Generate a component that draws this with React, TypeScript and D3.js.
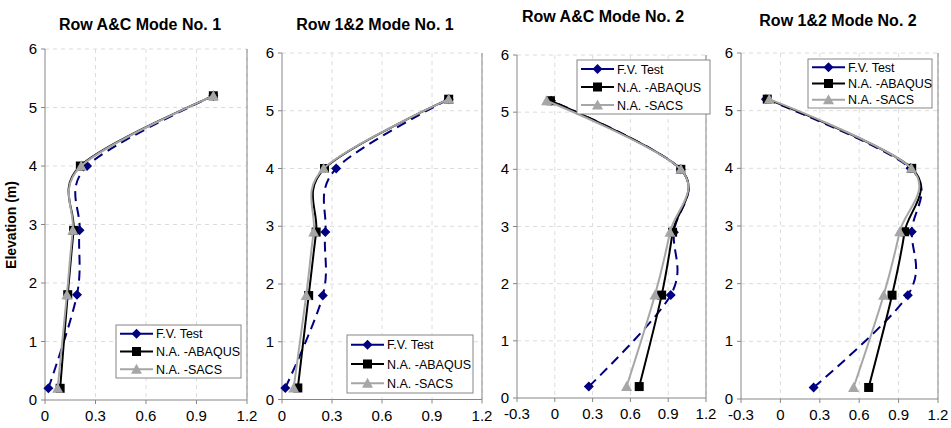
import React from 'react';
import * as d3 from 'd3';

// elevations of the measured points (m)
const heights = [0.2, 1.8, 2.9, 4.0, 5.2];
const seriesNames = ['F.V. Test', 'N.A. -ABAQUS', 'N.A. -SACS'];
const titles = ['Row A&C Mode No. 1', 'Row 1&2 Mode No. 1', 'Row A&C Mode No. 2', 'Row 1&2 Mode No. 2'];
const yTicks = [0, 1, 2, 3, 4, 5, 6];
const xTicksMode1 = [0, 0.3, 0.6, 0.9, 1.2];
const xTicksMode2 = [-0.3, 0, 0.3, 0.6, 0.9, 1.2];

// mode shape values, one array per series per panel
const fvAC1 = [0.02, 0.19, 0.205, 0.25, 1.0];
const abaqusAC1 = [0.09, 0.135, 0.17, 0.21, 1.0];
const sacsAC1 = [0.075, 0.13, 0.165, 0.215, 1.0];

const fv121 = [0.02, 0.245, 0.26, 0.325, 1.0];
const abaqus121 = [0.095, 0.16, 0.205, 0.255, 1.0];
const sacs121 = [0.07, 0.145, 0.19, 0.25, 1.0];

const fvAC2 = [0.27, 0.92, 0.945, 1.0, -0.03];
const abaqusAC2 = [0.67, 0.848, 0.935, 1.0, -0.035];
const sacsAC2 = [0.57, 0.795, 0.914, 1.0, -0.065];

const fv122 = [0.253, 0.97, 1.0, 0.99, -0.11];
const abaqus122 = [0.672, 0.85, 0.946, 1.0, -0.1];
const sacs122 = [0.557, 0.786, 0.908, 0.997, -0.085];

const panelData = [
  [fvAC1, abaqusAC1, sacsAC1],
  [fv121, abaqus121, sacs121],
  [fvAC2, abaqusAC2, sacsAC2],
  [fv122, abaqus122, sacs122],
];

// layout of each panel
const layout = [
  { left: 45, right: 247, top: 49, bottom: 400, xDomain: [0, 1.2], ticks: xTicksMode1, titleX: 140, titleY: 30, legend: { x: 116, y: 325, w: 125, h: 53 } },
  { left: 282, right: 482, top: 53, bottom: 399.5, xDomain: [0, 1.2], ticks: xTicksMode1, titleX: 375, titleY: 30, legend: { x: 347, y: 335, w: 126, h: 58 } },
  { left: 517, right: 706, top: 55, bottom: 398, xDomain: [-0.3, 1.2], ticks: xTicksMode2, titleX: 603, titleY: 22, legend: { x: 577, y: 60, w: 133, h: 54 } },
  { left: 741, right: 938, top: 53, bottom: 399, xDomain: [-0.3, 1.2], ticks: xTicksMode2, titleX: 838, titleY: 26, legend: { x: 808, y: 59, w: 124, h: 49 } },
];

const styles = [
  { color: '#000080', dash: '10,6', marker: 'diamond' },
  { color: '#000000', dash: null, marker: 'square' },
  { color: '#a6a6a6', dash: null, marker: 'triangle' },
];

const font = 'Arial, "Liberation Sans", sans-serif';
const gridColor = '#dcdcdc';
const axisColor = '#868686';

const Marker = ({ type, x, y, color }: any) => {
  if (type === 'diamond') {
    return <path d={`M${x},${y - 5}L${x + 5},${y}L${x},${y + 5}L${x - 5},${y}Z`} fill={color} />;
  }
  if (type === 'square') {
    return <rect x={x - 4.5} y={y - 4.5} width={9} height={9} fill={color} />;
  }
  return <path d={`M${x},${y - 5.5}L${x + 5.5},${y + 4.5}L${x - 5.5},${y + 4.5}Z`} fill={color} />;
};

const fmt = (v: number) => (Math.abs(v) < 1e-9 ? '0' : String(+v.toFixed(1)));

const Panel = ({ idx }: { idx: number }) => {
  const p = layout[idx];
  const x = d3.scaleLinear().domain(p.xDomain).range([p.left, p.right]);
  const y = d3.scaleLinear().domain([0, 6]).range([p.bottom, p.top]);
  const line = d3
    .line<number>()
    .x((d) => x(d))
    .y((_, i) => y(heights[i]))
    .curve(d3.curveCardinal.tension(0));

  const series = panelData[idx];
  const lg = p.legend;
  const rowH = lg.h / 3;

  return (
    <g>
      <text x={p.titleX} y={p.titleY} textAnchor="middle" fontFamily={font} fontWeight="bold" fontSize={16}>
        {titles[idx]}
      </text>

      {/* grid */}
      {p.ticks.slice(1).map((t) => (
        <line key={'gx' + t} x1={x(t)} x2={x(t)} y1={p.top} y2={p.bottom} stroke={gridColor} strokeDasharray="4,4" />
      ))}
      {yTicks.slice(1).map((t) => (
        <line key={'gy' + t} x1={p.left} x2={p.right} y1={y(t)} y2={y(t)} stroke={gridColor} strokeDasharray="4,4" />
      ))}

      {/* frame */}
      <line x1={p.right} x2={p.right} y1={p.top} y2={p.bottom} stroke={axisColor} />
      <line x1={p.left} x2={p.left} y1={p.top} y2={p.bottom} stroke={axisColor} />
      <line x1={p.left} x2={p.right} y1={p.bottom} y2={p.bottom} stroke={axisColor} />

      {yTicks.map((t) => (
        <g key={'yt' + t}>
          <line x1={p.left - 4} x2={p.left} y1={y(t)} y2={y(t)} stroke={axisColor} />
          <text x={p.left - 8} y={y(t) + 5} textAnchor="end" fontFamily={font} fontSize={15}>
            {t}
          </text>
        </g>
      ))}
      {p.ticks.map((t) => (
        <g key={'xt' + t}>
          <line x1={x(t)} x2={x(t)} y1={p.bottom} y2={p.bottom + 4} stroke={axisColor} />
          <text x={x(t)} y={p.bottom + 21} textAnchor="middle" fontFamily={font} fontSize={15}>
            {fmt(t)}
          </text>
        </g>
      ))}

      {/* series in plotting order: test, ABAQUS, SACS on top */}
      {[0, 1, 2].map((s) => (
        <g key={'s' + s}>
          <path
            d={line(series[s]) || ''}
            fill="none"
            stroke={styles[s].color}
            strokeWidth={2}
            strokeDasharray={styles[s].dash || undefined}
          />
          {series[s].map((v, i) => (
            <Marker key={i} type={styles[s].marker} x={x(v)} y={y(heights[i])} color={styles[s].color} />
          ))}
        </g>
      ))}

      {/* legend */}
      <rect x={lg.x} y={lg.y} width={lg.w} height={lg.h} fill="white" stroke={axisColor} />
      {seriesNames.map((name, s) => {
        const cy = lg.y + rowH * (s + 0.5);
        return (
          <g key={'lg' + s}>
            <line x1={lg.x + 4} x2={lg.x + 37} y1={cy} y2={cy} stroke={styles[s].color} strokeWidth={2} />
            <Marker type={styles[s].marker} x={lg.x + 20.5} y={cy} color={styles[s].color} />
            <text x={lg.x + 40} y={cy + 4.5} fontFamily={font} fontSize={12.5}>
              {name}
            </text>
          </g>
        );
      })}
    </g>
  );
};

const App = () => (
  <svg width={951} height={428} style={{ position: 'absolute', left: 0, top: 0, background: 'white' }}>
    <rect width={951} height={428} fill="white" />
    {layout.map((_, i) => (
      <Panel key={i} idx={i} />
    ))}
    <text transform="translate(16,225) rotate(-90)" textAnchor="middle" fontFamily={font} fontWeight="bold" fontSize={14}>
      Elevation (m)
    </text>
  </svg>
);

export default App;
